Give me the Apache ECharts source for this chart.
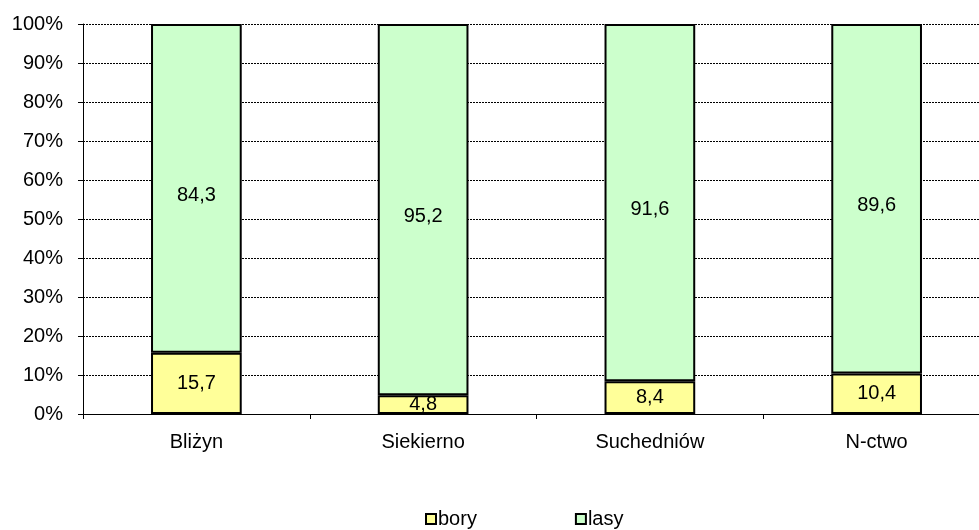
<!DOCTYPE html>
<html>
<head>
<meta charset="utf-8">
<script src="https://cdn.jsdelivr.net/npm/echarts@6/dist/echarts.min.js"></script>
<style>
  html, body { margin: 0; padding: 0; background: #fff; overflow: hidden; }
  /* the original plot runs slightly past the right edge of the picture */
  #chart { width: 990px; height: 530px; }
</style>
</head>
<body>
<div id="chart"></div>
<script>
const categories = ['Bliżyn', 'Siekierno', 'Suchedniów', 'N-ctwo'];
const bory = [15.7, 4.8, 8.4, 10.4];
const lasy = [84.3, 95.2, 91.6, 89.6];

const chart = echarts.init(document.getElementById('chart'));
const font = 'Liberation Sans, Arial, sans-serif';

const label = {
    show: true,
    position: 'inside',
    color: '#000',
    fontFamily: font,
    fontSize: 20,
    formatter: p => String(p.value).replace('.', ',')
};

chart.setOption({
    animation: false,
    grid: { left: 83, top: 24, right: 0, bottom: 116 },
    legend: {
        left: 425,
        top: 509,
        padding: 0,
        itemGap: 98,
        itemWidth: 10,
        itemHeight: 10,
        icon: 'rect',
        textStyle: { fontFamily: font, fontSize: 20, color: '#000', padding: [0, 0, 0, -3] },
        data: ['bory', 'lasy']
    },
    xAxis: {
        type: 'category',
        data: categories,
        axisLine: { lineStyle: { color: '#000', width: 1 } },
        axisTick: { show: true, length: 5, lineStyle: { color: '#000' } },
        axisLabel: { color: '#000', fontFamily: font, fontSize: 20, margin: 18 }
    },
    yAxis: {
        type: 'value',
        min: 0,
        max: 100,
        interval: 10,
        axisLine: { show: true, lineStyle: { color: '#000', width: 1 } },
        axisTick: { show: true, length: 5, lineStyle: { color: '#000' } },
        axisLabel: { color: '#000', fontFamily: font, fontSize: 20, margin: 20, formatter: '{value}%' },
        splitLine: { show: true, lineStyle: { color: '#000', type: [2, 1], width: 1 } }
    },
    series: [
        {
            name: 'bory',
            type: 'bar',
            stack: 'total',
            barWidth: '40%',
            data: bory,
            itemStyle: { color: '#FFFF99', borderColor: '#000', borderWidth: 2 },
            label: label
        },
        {
            name: 'lasy',
            type: 'bar',
            stack: 'total',
            barWidth: '40%',
            data: lasy,
            itemStyle: { color: '#CCFFCC', borderColor: '#000', borderWidth: 2 },
            label: Object.assign({}, label, { offset: [0, 7] })
        }
    ]
});
</script>
</body>
</html>
